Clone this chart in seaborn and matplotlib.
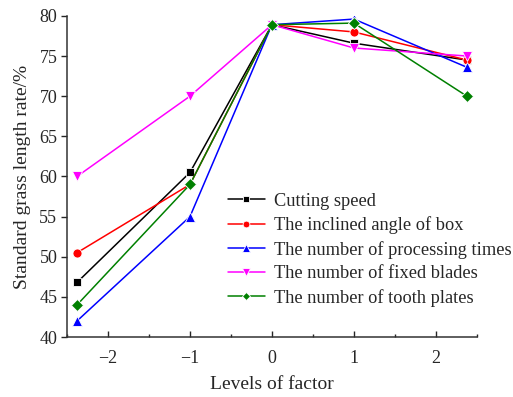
import numpy as np
import pandas as pd
import matplotlib
matplotlib.use("Agg")
import matplotlib.pyplot as plt
from matplotlib.ticker import MultipleLocator
import seaborn as sns

sns.set_theme(style="ticks")
plt.rcParams["font.family"] = ["Liberation Serif", "DejaVu Serif"]

levels = [-2.378, -1, 0, 1, 2.378]
cutting_speed = [46.8, 60.5, 78.9, 76.6, 74.5]
inclined_angle = [50.5, 59.0, 78.9, 78.0, 74.5]
processing_times = [42.0, 55.0, 78.9, 79.6, 73.6]
fixed_blades = [60.0, 70.0, 78.9, 76.0, 75.0]
tooth_plates = [44.0, 59.0, 78.9, 79.1, 70.0]

series_names = [
    "Cutting speed",
    "The inclined angle of box",
    "The number of processing times",
    "The number of fixed blades",
    "The number of tooth plates",
]
series_values = [cutting_speed, inclined_angle, processing_times, fixed_blades, tooth_plates]
colors = ["#000000", "#FF0000", "#0000FF", "#FF00FF", "#008000"]
markers = ["s", "o", "^", "v", "D"]
marker_sizes = [5.5, 6.5, 7.0, 7.0, 5.8]

df = pd.DataFrame(
    [(x, y, name) for name, vals in zip(series_names, series_values) for x, y in zip(levels, vals)],
    columns=["level", "rate", "factor"],
)

fig = plt.figure(figsize=(5.13, 3.97), dpi=100)
ax = fig.add_axes([0.1306, 0.151, 0.799, 0.809])

sns.lineplot(
    data=df, x="level", y="rate", hue="factor", style="factor",
    hue_order=series_names, style_order=series_names,
    palette=dict(zip(series_names, colors)),
    markers=dict(zip(series_names, markers)),
    dashes=False, linewidth=1.1, markeredgewidth=0.6,
    legend=False, ax=ax,
)

handles = []
for line, name, ms in zip(ax.lines, series_names, marker_sizes):
    line.set_markersize(ms)
    line.set_label(name)
    handles.append(line)

ax.set_xlim(-2.5, 2.5)
ax.set_ylim(40, 80)
ax.xaxis.set_minor_locator(MultipleLocator(0.5))
ax.yaxis.set_major_locator(MultipleLocator(5))
ax.set_xticks([-2, -1, 0, 1, 2])
ax.set_xticklabels(["\u22122", "\u22121", "0", "1", "2"])
ax.tick_params(axis="x", which="major", direction="in", length=4, width=1, labelsize=13, pad=9)
ax.tick_params(axis="x", which="minor", direction="in", length=2.5, width=1)
ax.tick_params(axis="y", which="major", direction="out", length=4, width=1, labelsize=13, pad=3)
for side in ["top", "right"]:
    ax.spines[side].set_visible(False)
for side in ["left", "bottom"]:
    ax.spines[side].set_linewidth(1.1)
    ax.spines[side].set_color("#333333")

ax.set_xlabel("Levels of factor", fontsize=14, labelpad=7)
ax.set_ylabel("Standard grass length rate/%", fontsize=14, labelpad=6)

ax.legend(
    handles=handles, labels=series_names,
    loc="upper left", bbox_to_anchor=(0.43, 0.533), bbox_transform=fig.transFigure,
    frameon=False, fontsize=13.2, handlelength=2.0, handletextpad=0.5,
    labelspacing=0.36, borderaxespad=0, markerscale=0.75,
)

fig.savefig("out.png", dpi=100)
